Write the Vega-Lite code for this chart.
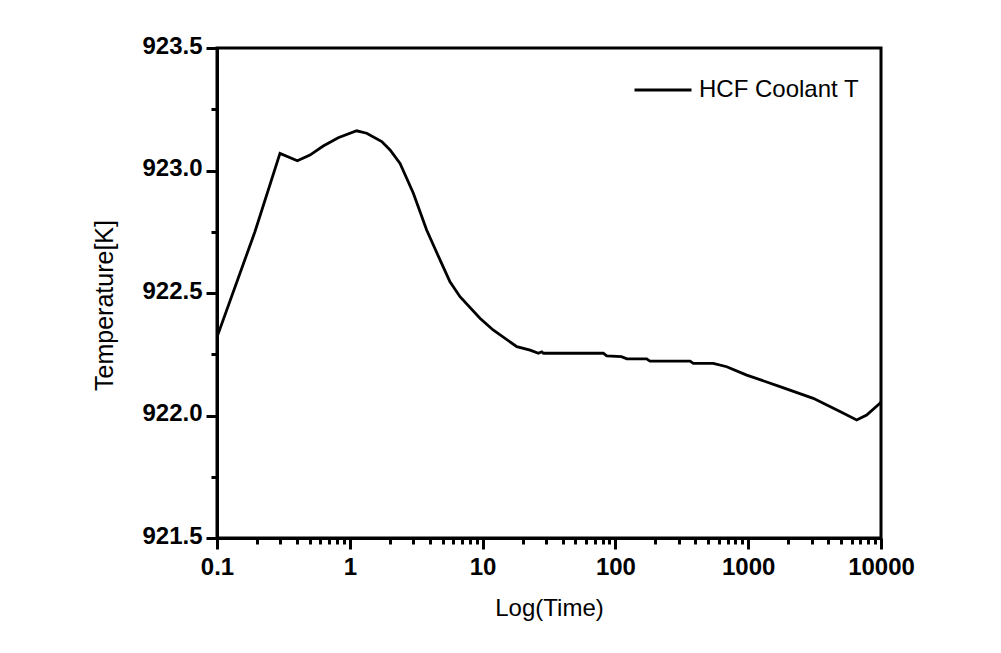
{
  "$schema": "https://vega.github.io/schema/vega-lite/v6.json",
  "width": 664,
  "height": 490,
  "autosize": {"type": "none"},
  "padding": {"left": 217, "top": 48, "right": 120, "bottom": 115},
  "background": "white",
  "config": {
    "view": {"stroke": "black", "strokeWidth": 3},
    "axis": {
      "grid": false,
      "domainColor": "black",
      "domainWidth": 3,
      "tickColor": "black",
      "tickWidth": 3,
      "labelColor": "black",
      "labelFont": "Liberation Sans",
      "labelFontWeight": "bold",
      "labelFontSize": 24,
      "labelOverlap": false,
      "labelFlush": false,
      "titleColor": "black",
      "titleFont": "Liberation Sans",
      "titleFontWeight": "normal",
      "titleFontSize": 24
    }
  },
  "data": {
    "values": [
      {"time": 0.1, "temp": 922.32},
      {"time": 0.193, "temp": 922.75},
      {"time": 0.298, "temp": 923.07},
      {"time": 0.403, "temp": 923.04},
      {"time": 0.501, "temp": 923.063},
      {"time": 0.631, "temp": 923.1},
      {"time": 0.818, "temp": 923.134},
      {"time": 1.127, "temp": 923.162},
      {"time": 1.34, "temp": 923.152},
      {"time": 1.74, "temp": 923.118},
      {"time": 2.01, "temp": 923.084},
      {"time": 2.39, "temp": 923.029},
      {"time": 3.01, "temp": 922.907},
      {"time": 3.79, "temp": 922.757},
      {"time": 4.78, "temp": 922.635},
      {"time": 5.68, "temp": 922.546},
      {"time": 6.76, "temp": 922.485},
      {"time": 9.55, "temp": 922.397},
      {"time": 12.0, "temp": 922.349},
      {"time": 18.1, "temp": 922.281},
      {"time": 22.8, "temp": 922.267},
      {"time": 26.3, "temp": 922.254},
      {"time": 27.9, "temp": 922.26},
      {"time": 28.7, "temp": 922.254},
      {"time": 81.1, "temp": 922.254},
      {"time": 86, "temp": 922.243},
      {"time": 111, "temp": 922.24},
      {"time": 122, "temp": 922.231},
      {"time": 172, "temp": 922.231},
      {"time": 182, "temp": 922.222},
      {"time": 365, "temp": 922.222},
      {"time": 386, "temp": 922.213},
      {"time": 546, "temp": 922.213},
      {"time": 689, "temp": 922.199},
      {"time": 975, "temp": 922.165},
      {"time": 1735, "temp": 922.118},
      {"time": 3090, "temp": 922.07},
      {"time": 4910, "temp": 922.016},
      {"time": 6560, "temp": 921.982},
      {"time": 7800, "temp": 922.002},
      {"time": 9820, "temp": 922.05},
      {"time": 10000, "temp": 922.055}
    ]
  },
  "mark": {"type": "line", "strokeWidth": 2.8, "clip": true},
  "encoding": {
    "x": {
      "field": "time",
      "type": "quantitative",
      "scale": {"type": "log", "domain": [0.1, 10000], "nice": false},
      "axis": {
        "title": "Log(Time)",
        "values": [0.1, 0.2, 0.3, 0.4, 0.5, 0.6, 0.7, 0.8, 0.9, 1, 2, 3, 4, 5, 6, 7, 8, 9, 10, 20, 30, 40, 50, 60, 70, 80, 90, 100, 200, 300, 400, 500, 600, 700, 800, 900, 1000, 2000, 3000, 4000, 5000, 6000, 7000, 8000, 9000, 10000],
        "labelExpr": "abs(log(datum.value)/LN10 - round(log(datum.value)/LN10)) < 0.001 ? format(datum.value, '~g') : ''",
        "tickSize": {"condition": {"test": "abs(log(datum.value)/LN10 - round(log(datum.value)/LN10)) < 0.001", "value": 11}, "value": 6},
        "labelPadding": 6,
        "titleX": 332,
        "titleY": 77,
        "titleAlign": "center",
        "titleBaseline": "alphabetic"
      }
    },
    "y": {
      "field": "temp",
      "type": "quantitative",
      "scale": {"domain": [921.5, 923.5], "nice": false, "zero": false},
      "axis": {
        "title": "Temperature[K]",
        "values": [921.5, 921.75, 922, 922.25, 922.5, 922.75, 923, 923.25, 923.5],
        "labelExpr": "abs(datum.value*2 - round(datum.value*2)) < 0.001 ? format(datum.value, '.1f') : ''",
        "tickSize": {"condition": {"test": "abs(datum.value*2 - round(datum.value*2)) < 0.001", "value": 11}, "value": 6},
        "labelPadding": 4,
        "labelOffset": -2,
        "titleFontSize": 25,
        "titleX": -105,
        "titleY": 257,
        "titleAlign": "center",
        "titleBaseline": "alphabetic"
      }
    },
    "color": {
      "datum": "HCF Coolant T",
      "type": "nominal",
      "scale": {"range": ["black"]},
      "legend": {
        "title": null,
        "orient": "none",
        "legendX": 416,
        "legendY": 12,
        "padding": 0,
        "symbolType": "stroke",
        "symbolSize": 3249,
        "symbolStrokeWidth": 2.8,
        "labelFont": "Liberation Sans",
        "labelFontSize": 24,
        "labelColor": "black",
        "labelLimit": 0,
        "labelOffset": 6
      }
    }
  }
}
